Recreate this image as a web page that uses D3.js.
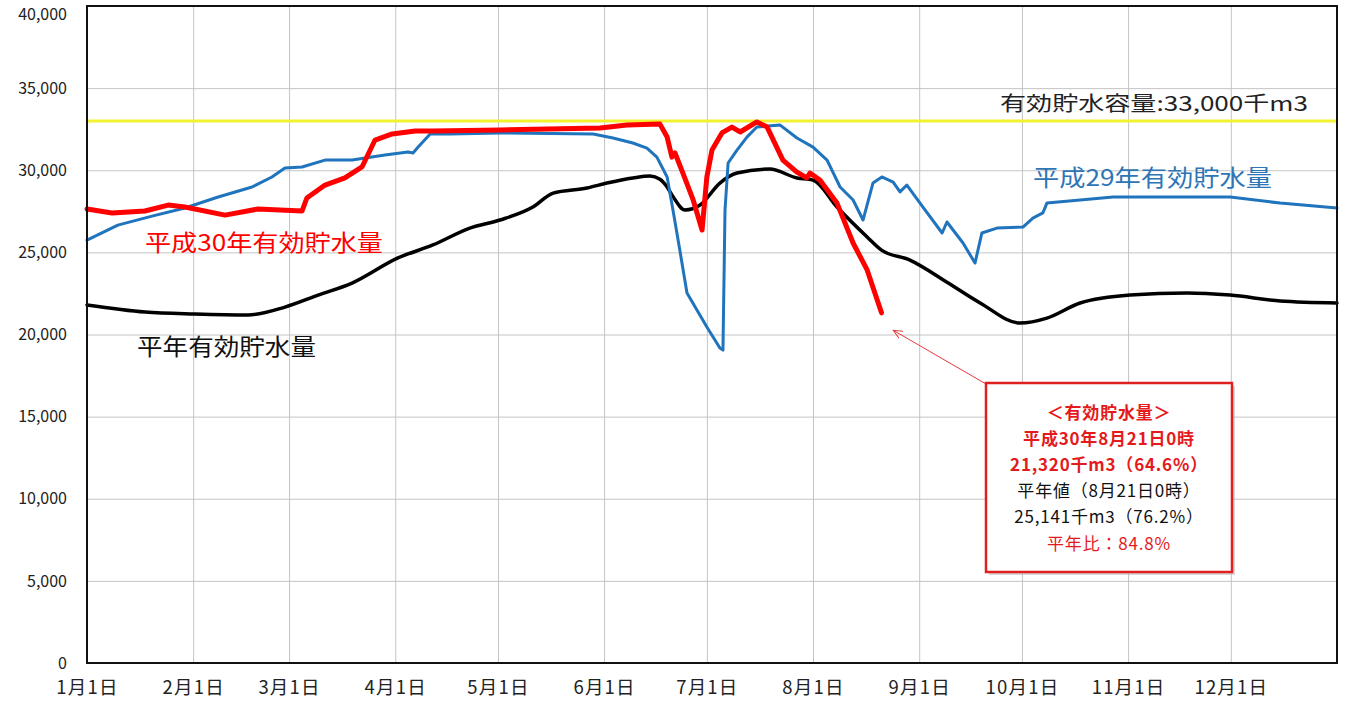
<!DOCTYPE html>
<html><head><meta charset="utf-8">
<script src="https://cdn.jsdelivr.net/npm/d3@7"></script>
<style>
html,body{margin:0;padding:0;background:#fff;}
svg{display:block;font-family:"Noto Sans CJK JP","Noto Sans",sans-serif;}
</style></head>
<body><svg id="c" width="1346" height="706"></svg>
<script>
// ---- data ----
const monthDays = [0,31,59,90,120,151,181,212,243,273,304,334];
const monthLabels = ["1月1日","2月1日","3月1日","4月1日","5月1日","6月1日","7月1日","8月1日","9月1日","10月1日","11月1日","12月1日"];
const yTicks = [0,5000,10000,15000,20000,25000,30000,35000,40000];
const capacity = 33000;

// 平年有効貯水量 (day of year, 千m3)
const avgDays   = [0,17,31.5,47,57.8,67.5,77.4,90.8,101,111.8,120.6,130.2,136.1,146,151.8,159.4,164.4,167.3,169.4,171.1,174.6,179,184.8,189.8,199.4,207.3,212,219,227.8,232,240.3,251,260.8,272.4,280.3,290,304.6,321.2,333.8,348.4,365];
const avgValues = [21800,21370,21250,21190,21670,22400,23130,24660,25450,26480,26970,27760,28610,28920,29220,29530,29650,29450,28980,28400,27580,27880,29220,29830,30070,29530,29400,27760,25940,25141,24530,23200,21920,20700,21000,21920,22400,22530,22400,22040,21920];

// 平成29年有効貯水量
const h29Days   = [0,9,19,28.6,38.3,48.2,54,57.8,62.8,69.5,77.4,87,93.7,95.2,96.7,100.2,106,120.6,147.8,153.6,159.4,163.5,166.4,169.4,171.1,173.1,175.2,178.1,181,184.8,185.7,186.3,187.2,189.8,192.7,195.6,202.4,207.3,212,216.1,219.9,223.7,226.6,229.5,232.1,235.4,237.4,239.4,244.1,249.7,251.1,255.8,259.3,261.3,265.7,273.3,276.2,279.1,280.3,290,299.6,333.8,348.4,365];
const h29Values = [25750,26660,27210,27700,28370,28980,29590,30140,30200,30620,30620,30930,31110,31050,31410,32210,32210,32270,32210,31960,31660,31350,30800,29590,27580,25140,22530,21490,20460,19180,19050,27580,30440,31230,32020,32630,32750,31960,31410,30620,28980,28190,26970,29220,29590,29280,28680,29100,27760,26180,26850,25570,24350,26180,26480,26540,27090,27400,28000,28190,28370,28370,28000,27700];

// 平成30年有効貯水量
const h30Days   = [0,7.3,16.9,23.7,28.6,40.3,49.9,62.8,64.2,69.5,75.3,80.3,84.1,89.1,95.8,101,120.6,149.8,157.7,167.3,169.4,170.8,171.7,174,177,179.6,181,182.5,185.4,188.3,190.7,195.6,198.6,203.2,207.3,210.2,211.1,214,219,223.7,227.8,232];
const h30Values = [27640,27400,27520,27880,27760,27270,27640,27520,28310,29100,29530,30200,31840,32210,32390,32390,32450,32570,32750,32810,32020,30800,31050,29830,28190,26360,29590,31230,32270,32630,32330,32940,32630,30620,29890,29530,29830,29400,28000,25570,23930,21320];

const annoLines = [
  {t:"＜有効貯水量＞", c:"#e41a1c", w:"bold"},
  {t:"平成30年8月21日0時", c:"#e41a1c", w:"bold"},
  {t:"21,320千m3（64.6%）", c:"#e41a1c", w:"bold"},
  {t:"平年値（8月21日0時）", c:"#111", w:"normal"},
  {t:"25,141千m3（76.2%）", c:"#111", w:"normal"},
  {t:"平年比：84.8%", c:"#e41a1c", w:"normal"}
];

// ---- layout ----
const L=87, R=1337, T=6, B=663;
const svg = d3.select("#c");
const x = d3.scaleLinear().domain([0,365]).range([L,R]);
const y = d3.scaleLinear().domain([0,40000]).range([B,T]);

// gridlines
svg.append("g").attr("transform",`translate(0,${B})`)
  .call(d3.axisBottom(x).tickValues(monthDays.slice(1)).tickSize(-(B-T)).tickFormat(""))
  .call(g=>g.select(".domain").remove())
  .call(g=>g.selectAll("line").attr("stroke","#c4c4c4").attr("stroke-width",1));
svg.append("g").attr("transform",`translate(${L},0)`)
  .call(d3.axisLeft(y).tickValues(yTicks.slice(1,-1)).tickSize(-(R-L)).tickFormat(""))
  .call(g=>g.select(".domain").remove())
  .call(g=>g.selectAll("line").attr("stroke","#c4c4c4").attr("stroke-width",1));

// axis labels
svg.append("g").attr("transform",`translate(0,${B})`)
  .call(d3.axisBottom(x).tickValues(monthDays).tickSize(0).tickPadding(18).tickFormat((d,i)=>monthLabels[i]))
  .call(g=>g.select(".domain").remove())
  .call(g=>g.selectAll("text").attr("font-size",18.5).attr("letter-spacing",1.2).attr("fill","#222").attr("font-family","'Noto Sans CJK JP',sans-serif"));
svg.append("g").attr("transform",`translate(${L},0)`)
  .call(d3.axisLeft(y).tickValues(yTicks).tickSize(0).tickPadding(20).tickFormat(d3.format(",")))
  .call(g=>g.select(".domain").remove())
  .call(g=>g.selectAll("text").attr("font-size",16).attr("fill","#222").attr("font-family","'Noto Sans CJK JP',sans-serif")
     .filter(d=>d===40000).attr("dy","0.85em"));

// capacity line
svg.append("line").attr("x1",L).attr("x2",R).attr("y1",y(capacity)).attr("y2",y(capacity))
  .attr("stroke","#f2f230").attr("stroke-width",3);

function series(days, vals, color, width, curve){
  const data = days.map((d,i)=>[d,vals[i]]);
  svg.append("path").datum(data)
    .attr("d", d3.line().x(d=>x(d[0])).y(d=>y(d[1])).curve(curve))
    .attr("fill","none").attr("stroke",color).attr("stroke-width",width)
    .attr("stroke-linejoin","round").attr("stroke-linecap","round");
}
series(avgDays, avgValues, "#000", 3.5, d3.curveMonotoneX);
series(h29Days, h29Values, "#1f74bd", 3, d3.curveLinear);
series(h30Days, h30Values, "#ff0000", 5, d3.curveLinear);

// plot frame
svg.append("rect").attr("x",L).attr("y",T).attr("width",R-L).attr("height",B-T)
  .attr("fill","none").attr("stroke","#111").attr("stroke-width",2);

// series labels
function label(txt, lx, ly, color, size, len){
  svg.append("text").attr("x",lx).attr("y",ly).text(txt)
    .attr("fill",color).attr("font-size",size)
    .attr("textLength",len).attr("lengthAdjust","spacingAndGlyphs");
}
label("有効貯水容量:33,000千m3", 1000, 111, "#222", 20, 308);
label("平成29年有効貯水量", 1033, 186, "#2e75b6", 23, 239);
label("平成30年有効貯水量", 145, 251, "#ff0000", 23, 238);
label("平年有効貯水量", 137, 355, "#111", 23, 179);

// annotation arrow
const defs = svg.append("defs");
defs.append("marker").attr("id","arr").attr("viewBox","0 0 10 10").attr("refX",9).attr("refY",5)
  .attr("markerWidth",10).attr("markerHeight",10).attr("orient","auto-start-reverse")
  .append("path").attr("d","M0,1 L9,5 L0,9").attr("fill","none").attr("stroke","#e8393c").attr("stroke-width",1);
svg.append("line").attr("x1",986).attr("y1",384).attr("x2",x(232.5)+10).attr("y2",y(20500)+4)
  .attr("stroke","#e8393c").attr("stroke-width",1).attr("marker-end","url(#arr)");

// annotation box
const bx=986, by=383, bw=246, bh=189;
svg.append("rect").attr("x",bx+3).attr("y",by+3).attr("width",bw).attr("height",bh)
  .attr("fill","#bbb").attr("opacity",0.6);
svg.append("rect").attr("x",bx).attr("y",by).attr("width",bw).attr("height",bh)
  .attr("fill","#fff").attr("stroke","#e0201f").attr("stroke-width",2.5);
svg.append("g").selectAll("text").data(annoLines).join("text")
  .attr("x",bx+bw/2).attr("y",(d,i)=>411+i*26.2)
  .attr("text-anchor","middle").attr("dominant-baseline","central")
  .attr("font-size",17).attr("letter-spacing",0.8).attr("fill",d=>d.c).attr("font-weight",d=>d.w)
  .text(d=>d.t);
</script></body></html>
